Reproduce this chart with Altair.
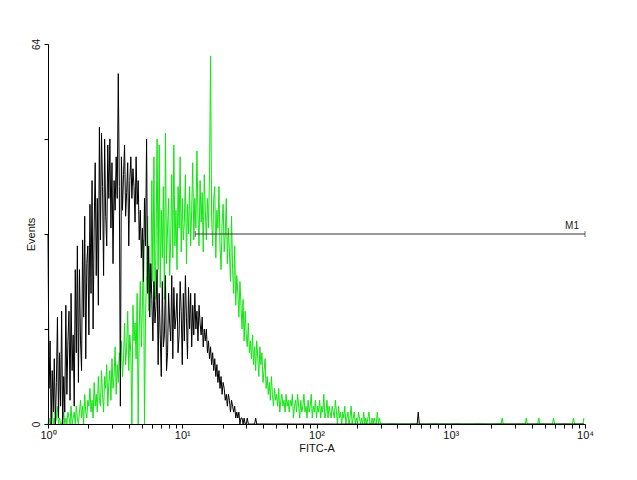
import altair as alt
import pandas as pd

# Histogram: 512 log channels over 4 decades (128 channels per decade)
N_CHANNELS = 512
CH_PER_DECADE = 128

# Black (control) counts, channels 0..195, rest zero except sparse spikes
black_head = [
    32, 6, 14, 0, 9, 2, 11, 0, 7, 18,
    1, 12, 3, 19, 0, 8, 2, 20, 5, 14,
    19, 4, 22, 9, 15, 3, 26, 12, 30, 7,
    26, 14, 9, 31, 18, 35, 11, 27, 30, 15,
    37, 22, 41, 16, 33, 44, 25, 38, 20, 50,
    31, 49, 40, 25, 48, 35, 30, 47, 38, 48,
    33, 44, 27, 41, 36, 45, 38, 59, 40, 3,
    45, 36, 42, 47, 35, 39, 44, 30, 41, 45,
    38, 43, 40, 34, 45, 37, 41, 31, 36, 28,
    33, 24, 38, 30, 48, 22, 30, 18, 27, 21,
    14, 24, 17, 20, 26, 10, 22, 15, 8, 24,
    13, 15, 25, 9, 12, 22, 17, 14, 25, 11,
    23, 16, 18, 22, 12, 15, 24, 19, 10, 22,
    14, 25, 18, 11, 23, 16, 22, 13, 20, 15,
    22, 16, 19, 14, 20, 17, 15, 18, 13, 16,
    14, 16, 12, 14, 11, 13, 10, 12, 9, 11,
    8, 10, 7, 9, 6, 8, 5, 7, 6, 4,
    5, 3, 5, 4, 2, 4, 3, 2, 3, 1,
    2, 1, 2, 0, 1, 1, 0, 1, 0, 0,
    1, 0, 0, 0, 0, 0,
]
black_spikes = [(198, 1), (353, 2)]

# Green (FITC stained) counts, channels 0..317, rest zero except sparse spikes
green_head = [
    0, 1, 0, 0, 2, 0, 1, 0, 1, 3,
    0, 1, 0, 0, 1, 2, 0, 1, 0, 2,
    1, 0, 3, 0, 1, 2, 0, 3, 1, 0,
    2, 4, 1, 3, 0, 5, 2, 1, 4, 3,
    6, 2, 4, 1, 7, 3, 5, 2, 8, 4,
    3, 9, 5, 2, 8, 6, 10, 3, 7, 9,
    4, 11, 6, 8, 13, 5, 10, 7, 12, 9,
    14, 8, 11, 17, 10, 13, 19, 9, 15, 12,
    0, 20, 14, 17, 11, 22, 0, 16, 24, 13,
    20, 31, 0, 18, 25, 35, 19, 27, 22, 41,
    24, 45, 21, 30, 48, 26, 47, 23, 36, 28,
    40, 21, 49, 27, 33, 38, 25, 31, 42, 28,
    47, 30, 36, 26, 40, 33, 45, 29, 38, 31,
    34, 42, 27, 37, 32, 40, 30, 36, 44, 31,
    38, 33, 46, 35, 30, 41, 34, 39, 29, 42,
    36, 31, 38, 33, 42, 62, 35, 30, 38, 40,
    28, 36, 33, 40, 30, 26, 34, 37, 29, 32,
    38, 27, 33, 29, 24, 35, 26, 22, 30, 20,
    25, 22, 18, 24, 20, 16, 21, 14, 19, 15,
    13, 17, 12, 14, 11, 15, 10, 13, 9, 14,
    11, 8, 13, 10, 12, 7, 9, 11, 6, 8,
    5, 7, 4, 8, 5, 3, 6, 4, 5, 3,
    6, 2, 4, 5, 3, 4, 2, 5, 3, 4,
    2, 4, 3, 5, 1, 3, 4, 2, 5, 3,
    1, 4, 2, 3, 5, 2, 3, 1, 4, 2,
    3, 5, 1, 3, 2, 4, 1, 3, 2, 4,
    1, 3, 2, 5, 1, 2, 4, 1, 3, 2,
    1, 3, 2, 1, 4, 2, 0, 3, 1, 2,
    0, 2, 1, 3, 0, 1, 2, 0, 1, 3,
    0, 1, 2, 0, 1, 0, 2, 1, 0, 1,
    0, 2, 0, 1, 0, 1, 2, 0, 0, 1,
    0, 1, 0, 0, 2, 0, 1, 0,
]
green_spikes = [(433, 1), (456, 1), (468, 1), (482, 1), (501, 1), (511, 1)]

# M1 marker gate
m1_start = 12.5
m1_end = 10000
m1_level = 32
m1_label = "M1"

x_tick_decades = [1, 10, 100, 1000, 10000]
x_tick_labels = ["10⁰", "10¹", "10²", "10³", "10⁴"]
y_tick_values = [0, 16, 32, 48, 64]


def full_counts(head, spikes):
    counts = list(head) + [0] * (N_CHANNELS - len(head))
    for ch, c in spikes:
        counts[ch] = c
    return counts


black_counts = full_counts(black_head, black_spikes)
green_counts = full_counts(green_head, green_spikes)
fl_values = [10 ** (i / CH_PER_DECADE) for i in range(N_CHANNELS)]

df_black = pd.DataFrame({"fl": fl_values, "count": black_counts})
df_green = pd.DataFrame({"fl": fl_values, "count": green_counts})

minor_values = []
for d in x_tick_decades[:-1]:
    minor_values += [d * k for k in range(1, 10)]
minor_values.append(x_tick_decades[-1])

label_expr = ""
for v, lab in zip(x_tick_decades, x_tick_labels):
    label_expr += f"datum.value == {v} ? '{lab}' : "
label_expr += "''"

FONT = "Liberation Sans"

x_enc = alt.X(
    "fl:Q",
    scale=alt.Scale(type="log", domain=[1, 10000], nice=False),
    axis=alt.Axis(
        title="FITC-A",
        values=minor_values,
        labelExpr=label_expr,
        labelFlush=False,
        labelOverlap=False,
        grid=False,
        tickSize=4,
        labelPadding=1,
        titleY=24,
        titleBaseline="middle",
        domainColor="#000000",
        tickColor="#000000",
        labelColor="#111111",
        titleColor="#111111",
        labelFont=FONT,
        titleFont=FONT,
        labelFontSize=11,
        titleFontSize=11,
        titleFontWeight="normal",
        zindex=1,
    ),
)
y_enc = alt.Y(
    "count:Q",
    scale=alt.Scale(domain=[0, 64], nice=False),
    axis=alt.Axis(
        title="Events",
        values=y_tick_values,
        labelExpr="datum.value == 0 || datum.value == 64 ? datum.label : ''",
        labelAngle=-90,
        labelOverlap=False,
        grid=False,
        tickSize=4,
        labelPadding=3,
        titleX=-17,
        titleBaseline="middle",
        domainColor="#000000",
        tickColor="#000000",
        labelColor="#111111",
        titleColor="#111111",
        labelFont=FONT,
        titleFont=FONT,
        labelFontSize=10,
        titleFontSize=11,
        titleFontWeight="normal",
        zindex=1,
    ),
)

green = alt.Chart(df_green).mark_line(
    interpolate="linear", color="#10e610", strokeWidth=1
).encode(x=x_enc, y=y_enc)

black = alt.Chart(df_black).mark_line(
    interpolate="linear", color="#000000", strokeWidth=1
).encode(x="fl:Q", y="count:Q")

df_m1 = pd.DataFrame({"fl": [m1_start], "fl_end": [m1_end], "count": [m1_level]})
df_caps = pd.DataFrame({"fl": [m1_start, m1_end], "count": [m1_level, m1_level]})
df_lab = pd.DataFrame({"fl": [m1_end], "count": [m1_level], "label": [m1_label]})

m1_rule = alt.Chart(df_m1).mark_rule(color="#333333", strokeWidth=1).encode(
    x="fl:Q", x2="fl_end:Q", y="count:Q"
)
m1_caps = alt.Chart(df_caps).mark_tick(
    orient="vertical", size=6, thickness=1, color="#333333"
).encode(x="fl:Q", y="count:Q")
m1_text = alt.Chart(df_lab).mark_text(
    align="right", baseline="bottom", dx=-6, dy=-3, fontSize=10, font=FONT, color="#222222"
).encode(x="fl:Q", y="count:Q", text="label:N")

chart = alt.layer(green, black, m1_rule, m1_caps, m1_text).properties(
    width=537,
    height=380,
    autosize=alt.AutoSizeParams(type="none"),
    padding={"left": 40, "top": 36, "right": 30, "bottom": 40},
    background="#ffffff",
).configure_view(stroke=None)

chart.save("out.html", embed_options={"renderer": "svg", "actions": False})
